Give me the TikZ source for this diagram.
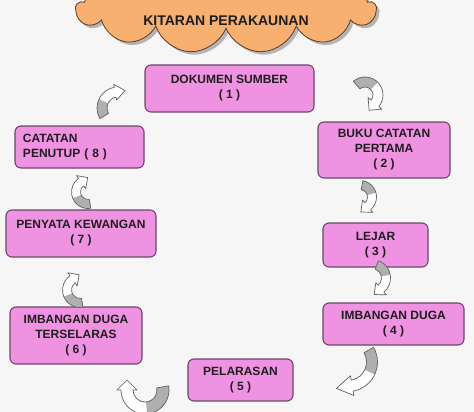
\documentclass[tikz,border=0pt]{standalone}
\usepackage{fontspec}
\setmainfont{Liberation Sans}
\usetikzlibrary{shapes.symbols,shadows}
\definecolor{boxfill}{RGB}{240,146,226}
\definecolor{boxline}{RGB}{105,72,105}
\definecolor{cloudfill}{RGB}{247,176,112}
\definecolor{cloudline}{RGB}{90,60,40}
\definecolor{bgcol}{RGB}{246,246,246}
\definecolor{arrgray}{RGB}{175,175,175}
\definecolor{arrline}{RGB}{95,95,95}
\definecolor{txt}{RGB}{30,30,30}
\tikzset{
  stepbox/.style={draw=boxline, fill=boxfill, line width=1.1pt, rounded corners=6pt,
    inner sep=0pt, align=center, text=txt, font=\bfseries\fontsize{12}{15}\selectfont},
  pics/carrow/.style args={#1/#2/#3/#4/#5/#6}{code={
    \pgfmathsetmacro\caS{sign(#2-#1)}
    \pgfmathsetmacro\caT{#2+90*\caS}
    \pgfmathsetmacro\caM{#1+0.5*(#2-#1)}
    \pgfmathsetmacro\caRo{#3+#5}
    \pgfmathsetmacro\caRi{#3-#5}
    \pgfmathsetmacro\caHo{#3+#6}
    \pgfmathsetmacro\caHi{#3-#6}
    \pgfmathsetmacro\caX{#3*cos(#2)+#4*cos(\caT)}
    \pgfmathsetmacro\caY{#3*sin(#2)+#4*sin(\caT)}
    \path[fill=white] (#1:\caRo) arc[start angle=#1,end angle=#2,radius=\caRo] -- (#2:\caHo) -- (\caX,\caY) -- (#2:\caHi) -- (#2:\caRi) arc[start angle=#2,end angle=#1,radius=\caRi] -- cycle;
    \path[fill=arrgray] (#1:\caRo) arc[start angle=#1,end angle=\caM,radius=\caRo] -- (\caM:\caRi) arc[start angle=\caM,end angle=#1,radius=\caRi] -- cycle;
    \draw[arrline, line width=0.7pt, line join=round] (#1:\caRo) arc[start angle=#1,end angle=#2,radius=\caRo] -- (#2:\caHo) -- (\caX,\caY) -- (#2:\caHi) -- (#2:\caRi) arc[start angle=#2,end angle=#1,radius=\caRi] -- cycle;
  }}
}
\begin{document}
\begin{tikzpicture}[x=1pt,y=-1pt]
\useasboundingbox (0,0) rectangle (474,412);
\clip (0,0) rectangle (474,412);
\fill[bgcol] (0,0) rectangle (474,412);
% title cloud
\node[cloud, cloud puffs=13, cloud puff arc=140, draw=cloudline, fill=cloudfill, line width=0.8pt,
  minimum width=300pt, minimum height=88pt,
  drop shadow={shadow xshift=3pt, shadow yshift=-3pt, fill=black!55}] (cloud) at (226,9) {};
\node[text=txt, font=\bfseries\fontsize{14}{16}\selectfont] (title) at (226,21) {KITARAN PERAKAUNAN};
% steps
\node[stepbox, minimum width=169pt, minimum height=47pt] (s1) at (229.5,88.5) {DOKUMEN SUMBER\\( 1 )};
\node[stepbox, minimum width=132pt, minimum height=56pt] (s2) at (384,150) {BUKU CATATAN\\PERTAMA\\( 2 )};
\node[stepbox, minimum width=105pt, minimum height=44pt] (s3) at (375.5,245) {LEJAR\\( 3 )};
\node[stepbox, minimum width=141pt, minimum height=42pt] (s4) at (393.5,324) {IMBANGAN DUGA\\( 4 )};
\node[stepbox, minimum width=105pt, minimum height=42pt] (s5) at (240.5,380) {PELARASAN\\( 5 )};
\node[stepbox, minimum width=132pt, minimum height=57pt] (s6) at (76,335.5) {IMBANGAN DUGA\\TERSELARAS\\( 6 )};
\node[stepbox, minimum width=150pt, minimum height=47pt] (s7) at (81,233.5) {PENYATA KEWANGAN\\( 7 )};
\node[stepbox, minimum width=129pt, minimum height=42pt, text width=113pt, align=left] (s8) at (79.5,147) {CATATAN\\PENUTUP ( 8 )};
% curved arrows
\pic at (118,108) {carrow=150/260/16/10/5/8};
\pic at (365,95) {carrow=230/400/13/9/5/9};
\pic at (360,197) {carrow=280/410/12/9/4.5/8};
\pic at (372,278) {carrow=290/410/14/9/4.5/8};
\pic at (348,362) {carrow=330/440/24/16/5.5/10};
\pic at (145,390) {carrow=-10/180/18/10/6/10};
\pic at (80,290) {carrow=80/235/13/8/4.5/8};
\pic at (88,192) {carrow=80/235/12/8/4.5/8};
\end{tikzpicture}
\end{document}
